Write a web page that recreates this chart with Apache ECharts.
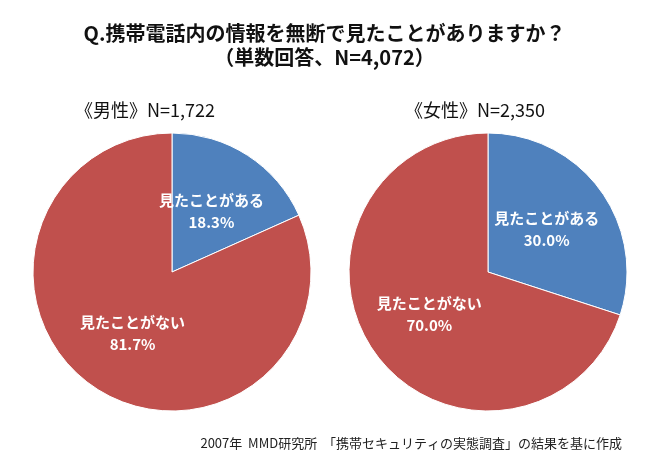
<!DOCTYPE html>
<html><head><meta charset="utf-8">
<script src="https://cdn.jsdelivr.net/npm/echarts@6/dist/echarts.min.js"></script>
<style>body{margin:0;background:#fff}#c{width:649px;height:472px}</style>
</head><body><div id="c"></div>
<script>
const categories = ['見たことがある', '見たことがない'];
const maleValues = [18.3, 81.7];
const femaleValues = [30.0, 70.0];
const colors = ['#4f81bd', '#c0504d'];
const font = '"Noto Sans CJK JP", sans-serif';
function mk(vals){ return vals.map((v,i)=>({name:categories[i], value:v, itemStyle:{color:colors[i]}})); }
function series(center, vals){
  return {type:'pie', radius:139, center:center, startAngle:90, clockwise:true,
    data:mk(vals), silent:true,
    itemStyle:{borderColor:'#fff', borderWidth:1},
    label:{position:'inner', color:'#fff', fontFamily:font, fontSize:15, fontWeight:'bold', lineHeight:22,
      formatter:p=>p.name+'\n'+p.value.toFixed(1)+'%'},
    labelLine:{show:false}};
}
const chart = echarts.init(document.getElementById('c'));
chart.setOption({
  animation:false,
  title:[
    {text:'Q.携帯電話内の情報を無断で見たことがありますか？', left:'center', top:18,
     textStyle:{fontFamily:font, fontSize:20, fontWeight:'bold', color:'#111'}},
    {text:'（単数回答、N=4,072）', left:'center', top:42,
     textStyle:{fontFamily:font, fontSize:20, fontWeight:'bold', color:'#111'}},
    {text:'《男性》N=1,722', left:70, top:96, textStyle:{fontFamily:font, fontSize:18, fontWeight:'normal', color:'#111'}},
    {text:'《女性》N=2,350', left:400, top:96, textStyle:{fontFamily:font, fontSize:18, fontWeight:'normal', color:'#111'}},
    {text:'2007年  MMD研究所  「携帯セキュリティの実態調査」の結果を基に作成', right:22, top:432,
     textStyle:{fontFamily:font, fontSize:13, fontWeight:'normal', color:'#222'}}
  ],
  series:[series([172,272], maleValues), series([488,272], femaleValues)]
});
</script></body></html>
